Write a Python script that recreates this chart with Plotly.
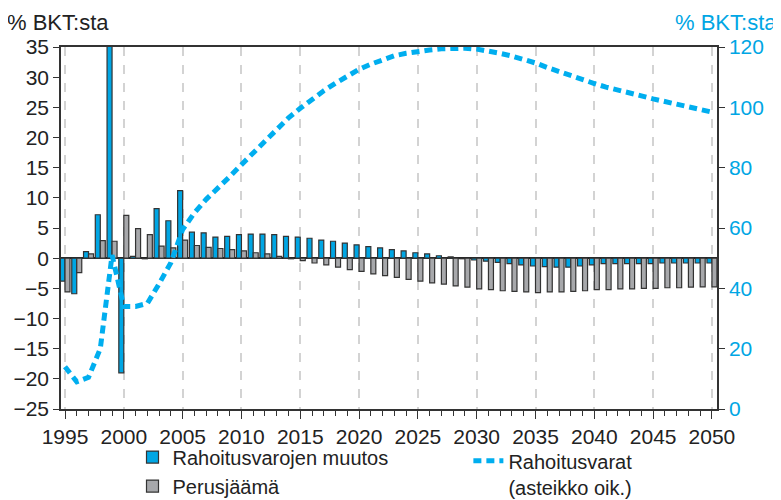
import plotly.graph_objects as go

# vuodet 1995-2050
years = list(range(1995, 2051))

# Rahoitusvarojen muutos, % BKT:sta (vasen asteikko)
muutos = [
    -3.8, -5.9, 1.1, 7.2, 35.6, -19.0, 0.3, -0.1, 8.2, 6.2,
    11.2, 4.3, 4.2, 3.5, 3.6, 3.9, 4.0, 4.0, 3.9, 3.6,
    3.5, 3.3, 3.0, 2.8, 2.5, 2.2, 1.9, 1.7, 1.4, 1.2,
    0.9, 0.7, 0.4, 0.2, -0.1, -0.3, -0.5, -0.7, -0.9, -1.1,
    -1.3, -1.4, -1.5, -1.5, -1.3, -1.1, -0.9, -0.9, -0.9, -0.9,
    -0.9, -0.8, -0.8, -0.8, -0.8, -0.8,
]

# Perusjäämä, % BKT:sta (vasen asteikko)
perusjaama = [
    -5.6, -2.4, 0.7, 2.9, 2.8, 7.1, 4.9, 3.9, 2.0, 1.7,
    3.0, 2.1, 1.8, 1.6, 1.4, 1.2, 0.9, 0.7, 0.3, -0.1,
    -0.4, -0.8, -1.1, -1.5, -1.9, -2.2, -2.6, -2.9, -3.2, -3.5,
    -3.8, -4.1, -4.3, -4.6, -4.8, -5.1, -5.2, -5.4, -5.5, -5.6,
    -5.7, -5.6, -5.6, -5.5, -5.4, -5.2, -5.2, -5.1, -5.1, -5.0,
    -5.0, -4.9, -4.9, -4.8, -4.75, -4.75,
]

# Rahoitusvarat, % BKT:sta (oikea asteikko)
varat = [
    14.0, 9.0, 10.5, 20.0, 51.0, 34.0, 34.0, 35.0, 41.5, 48.5,
    59.5, 65.0, 69.5, 73.0, 77.0, 81.0, 85.0, 89.0, 93.0, 96.5,
    99.7, 102.7, 105.5, 108.0, 110.5, 112.6, 114.3, 115.9, 117.1, 117.9,
    118.6, 119.0, 119.4, 119.6, 119.6, 119.3, 118.7, 117.9, 117.0, 116.0,
    114.7, 113.2, 111.8, 110.4, 109.1, 107.9, 106.7, 105.6, 104.7, 103.8,
    102.8, 101.9, 101.0, 100.1, 99.3, 98.4,
]

left_ticks = list(range(-25, 36, 5))
right_ticks = list(range(0, 121, 20))
x_ticks = list(range(1995, 2051, 5))

BLUE = "#00a6e4"
GRAY = "#a7a8ab"
FONT = "Liberation Sans Narrow, Arial Narrow, Liberation Sans, Arial, sans-serif"

fig = go.Figure()

fig.add_trace(go.Bar(
    x=years, y=muutos, name="Rahoitusvarojen muutos",
    marker=dict(color=BLUE, line=dict(color="#333333", width=1.2)),
    legend="legend",
))
fig.add_trace(go.Bar(
    x=years, y=perusjaama, name="Perusjäämä",
    marker=dict(color=GRAY, line=dict(color="#333333", width=1.2)),
    legend="legend",
))
fig.add_trace(go.Scatter(
    x=years, y=varat, name="Rahoitusvarat<br>(asteikko oik.)",
    mode="lines", yaxis="y2",
    line=dict(color="#00aeef", width=5, dash="8px,5px"),
    legend="legend2",
))

# sivun oletusmarginaali (8 px) huomioitu: kuva 773x492
fig.update_layout(
    width=773, height=492,
    margin=dict(l=53, r=64, t=39, b=91, autoexpand=False),
    paper_bgcolor="white", plot_bgcolor="white",
    font=dict(family=FONT, size=21, color="#222222"),
    barmode="group", bargap=0.15, bargroupgap=0,
    xaxis=dict(
        range=[1994.66, 2050.43],
        tickvals=x_ticks,
        ticks="outside", ticklen=8, tickwidth=1.2, tickcolor="#333333",
        minor=dict(dtick=1, tick0=1995, ticks="outside", ticklen=5,
                   tickwidth=1, tickcolor="#333333", showgrid=False),
        showline=True, linecolor="#333333", linewidth=1.5, mirror=True,
        showgrid=True, gridcolor="#d3d3d3", gridwidth=1.5, griddash="dash",
        zeroline=False,
    ),
    yaxis=dict(
        range=[-25, 35],
        tickvals=left_ticks,
        ticks="outside", ticklen=6, tickwidth=1.2, tickcolor="#333333",
        showline=True, linecolor="#333333", linewidth=1.5,
        showgrid=False,
        zeroline=True, zerolinecolor="#222222", zerolinewidth=1.5,
    ),
    yaxis2=dict(
        range=[0, 120], overlaying="y", side="right",
        tickvals=right_ticks,
        ticks="outside", ticklen=6, tickwidth=1.2, tickcolor="#333333",
        tickfont=dict(color="#00a6e4"),
        showline=True, linecolor="#333333", linewidth=1.5,
        showgrid=False, zeroline=False,
    ),
    legend=dict(
        x=0.109, y=-0.079, xanchor="left", yanchor="top",
        orientation="v", font=dict(size=20), tracegroupgap=0,
        bgcolor="rgba(0,0,0,0)",
    ),
    legend2=dict(
        x=0.621, y=-0.089, xanchor="left", yanchor="top",
        orientation="v", font=dict(size=20), valign="top",
        bgcolor="rgba(0,0,0,0)",
    ),
    annotations=[
        dict(text="% BKT:sta", x=0, y=1, xref="paper", yref="paper",
             xanchor="right", yanchor="bottom", xshift=50, yshift=10,
             showarrow=False, font=dict(size=22, color="#222222")),
        dict(text="% BKT:sta", x=1, y=1, xref="paper", yref="paper",
             xanchor="right", yanchor="bottom", xshift=62, yshift=10,
             showarrow=False, font=dict(size=22, color="#00a6e4")),
    ],
)

fig.write_html("out.html")
